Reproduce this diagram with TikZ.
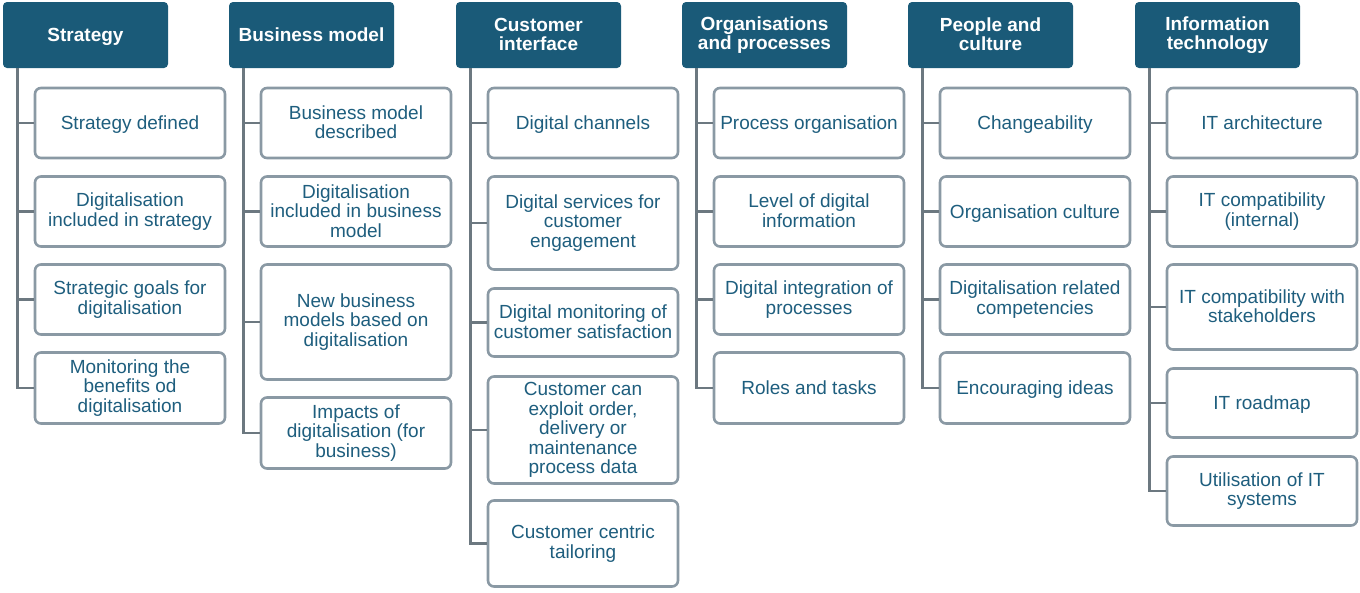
\documentclass[tikz,border=0pt]{standalone}
\usepackage{fontspec}
\setmainfont{Liberation Sans}
\definecolor{hdrfill}{HTML}{1A5A78}
\definecolor{txtcol}{HTML}{1E5E7E}
\definecolor{boxline}{HTML}{8A99A4}
\definecolor{connline}{HTML}{6C7880}
\def\topH{17.1pt}
\def\botD{4.0pt}
\newcommand{\topstrut}{\rule{0pt}{\topH}}
\newcommand{\botstrut}{\rule[-\botD]{0pt}{\botD}}
\tikzset{
  hdr/.style={draw=none, fill=hdrfill, rounded corners=4pt, minimum width=165pt, minimum height=66pt, text=white, font=\fontsize{19}{19.3}\selectfont\bfseries, align=center, inner sep=0pt,
    execute at begin node=\topstrut, execute at end node=\botstrut},
  child/.style={draw=boxline, line width=2.6pt, fill=white, rounded corners=6pt, minimum width=190pt, text=txtcol, font=\fontsize{19}{19.6}\selectfont, align=center, inner sep=0pt,
    execute at begin node=\topstrut, execute at end node=\botstrut},
  ml/.style={/utils/exec={\def\topH{19.6pt}\def\botD{1.5pt}}},
  conn/.style={draw=connline, line width=2.8pt}
}
\begin{document}
\begin{tikzpicture}[x=1pt,y=-1pt]
\useasboundingbox (0,0) rectangle (1360,592);
% Headers
\node[hdr] (h1) at (85.5,35) {Strategy};
\node[hdr] (h2) at (311.5,35) {Business model};
\node[hdr, ml] (h3) at (538.5,35) {Customer\\interface};
\node[hdr, ml] (h4) at (764.5,35) {Organisations\\and processes};
\node[hdr, ml] (h5) at (990.5,35) {People and\\culture};
\node[hdr, ml] (h6) at (1217.5,35) {Information\\technology};
% Strategy
\node[child, minimum height=70pt] (a1) at (130,123) {Strategy defined};
\node[child, ml, minimum height=70pt] (a2) at (130,211.5) {Digitalisation\\included in strategy};
\node[child, ml, minimum height=70pt] (a3) at (130,299.5) {Strategic goals for\\digitalisation};
\node[child, ml, minimum height=71pt] (a4) at (130,388) {Monitoring the\\benefits od\\digitalisation};
% Business model
\node[child, ml, minimum height=70pt] (b1) at (356,123) {Business model\\described};
\node[child, ml, minimum height=70pt] (b2) at (356,211.5) {Digitalisation\\included in business\\model};
\node[child, ml, minimum height=115pt] (b3) at (356,322) {New business\\models based on\\digitalisation};
\node[child, ml, minimum height=71pt] (b4) at (356,433) {Impacts of\\digitalisation (for\\business)};
% Customer interface
\node[child, minimum height=70pt] (c1) at (583,123) {Digital channels};
\node[child, ml, minimum height=93pt] (c2) at (583,223) {Digital services for\\customer\\engagement};
\node[child, ml, minimum height=68pt] (c3) at (583,322.5) {Digital monitoring of\\customer satisfaction};
\node[child, ml, minimum height=107pt] (c4) at (583,430) {Customer can\\exploit order,\\delivery or\\maintenance\\process data};
\node[child, ml, minimum height=86pt] (c5) at (583,543.5) {Customer centric\\tailoring};
% Organisations and processes
\node[child, minimum height=70pt] (d1) at (809,123) {Process organisation};
\node[child, ml, minimum height=70pt] (d2) at (809,211.5) {Level of digital\\information};
\node[child, ml, minimum height=70pt] (d3) at (809,299.5) {Digital integration of\\processes};
\node[child, minimum height=71pt] (d4) at (809,388) {Roles and tasks};
% People and culture
\node[child, minimum height=70pt] (e1) at (1035,123) {Changeability};
\node[child, minimum height=70pt] (e2) at (1035,211.5) {Organisation culture};
\node[child, ml, minimum height=70pt] (e3) at (1035,299.5) {Digitalisation related\\competencies};
\node[child, minimum height=71pt] (e4) at (1035,388) {Encouraging ideas};
% Information technology
\node[child, minimum height=70pt] (f1) at (1262,123) {IT architecture};
\node[child, ml, minimum height=70pt] (f2) at (1262,211.5) {IT compatibility\\(internal)};
\node[child, ml, minimum height=85pt] (f3) at (1262,307) {IT compatibility with\\stakeholders};
\node[child, minimum height=69pt] (f4) at (1262,403) {IT roadmap};
\node[child, ml, minimum height=69pt] (f5) at (1262,491) {Utilisation of IT\\systems};
% Connectors
\foreach \h/\list in {h1/{a1,a2,a3,a4}, h2/{b1,b2,b3,b4}, h3/{c1,c2,c3,c4,c5}, h4/{d1,d2,d3,d4}, h5/{e1,e2,e3,e4}, h6/{f1,f2,f3,f4,f5}}{
  \foreach \c in \list {
    \draw[conn] ([xshift=15pt]\h.south west) |- (\c.west);
  }
}
\end{tikzpicture}
\end{document}
